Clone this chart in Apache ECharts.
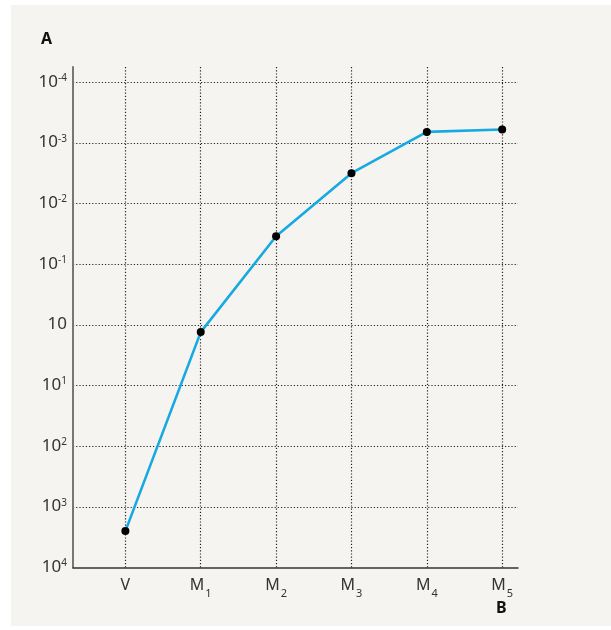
<!DOCTYPE html>
<html>
<head>
<meta charset="utf-8">
<title>A vs B</title>
<script src="https://cdn.jsdelivr.net/npm/echarts@6/dist/echarts.min.js"></script>
<style>
  html, body { margin: 0; padding: 0; background: #ffffff; }
  #chart { width: 611px; height: 630px; }
</style>
</head>
<body>
<div id="chart"></div>
<script>
// Stages along the horizontal axis (letter + index shown as subscript)
const categories = ['V', 'M1', 'M2', 'M3', 'M4', 'M5'];
// Exponent of ten for each stage (axis runs from 10^4 at the bottom to 10^-4 at the top)
const exponents = [3.40, 0.12, -1.46, -2.50, -3.18, -3.22];
// Vertical tick labels: base and superscript, from top (-4) to bottom (4)
const tickBase = '10';
const tickExponents = [-4, -3, -2, -1, 0, 1, 2, 3, 4];
const tickSups = ['-4', '-3', '-2', '-1', '', '1', '2', '3', '4'];
const axisNameY = 'A';
const axisNameX = 'B';

const FONT = '"Noto Sans", "Open Sans", sans-serif';
const TEXT = '#333333';

const chart = echarts.init(document.getElementById('chart'), null, { renderer: 'canvas' });

const seriesData = categories.map((c, i) => [i, exponents[i]]);

function isInt(v) { return Math.abs(v - Math.round(v)) < 1e-6; }

const option = {
  backgroundColor: 'transparent',
  animation: false,
  graphic: [
    {
      type: 'rect', z: -10, silent: true,
      shape: { x: 11, y: 5, width: 600, height: 621 },
      style: { fill: '#f5f4f0' }
    },
    {
      type: 'text', left: 41, top: 31,
      style: { text: axisNameY, font: 'bold 16px ' + FONT, fill: '#111' }
    },
    {
      type: 'text', left: 496, top: 600,
      style: { text: axisNameX, font: 'bold 16px ' + FONT, fill: '#111' }
    }
  ],
  grid: { left: 73, right: 93, top: 67, bottom: 62.5, containLabel: false },
  xAxis: {
    type: 'value',
    min: -0.695,
    max: 5.21,
    splitNumber: 6,
    axisLine: { show: true, onZero: false, lineStyle: { color: '#333', width: 1.5 } },
    axisTick: { show: false },
    axisLabel: {
      showMinLabel: false,
      showMaxLabel: false,
      margin: 10,
      color: TEXT,
      fontFamily: FONT,
      fontSize: 16,
      formatter: function (v) {
        if (!isInt(v) || v < 0 || v >= categories.length) return '';
        const name = categories[Math.round(v)];
        const letter = name.charAt(0);
        const sub = name.slice(1);
        return sub ? '{m|' + letter + '}{sub|' + sub + '}' : '{m|' + letter + '}';
      },
      rich: {
        m: { fontSize: 16, fontFamily: FONT, color: TEXT, lineHeight: 16, verticalAlign: 'top' },
        sub: { fontSize: 11, fontFamily: FONT, color: TEXT, lineHeight: 22, verticalAlign: 'bottom', padding: [0, 0, 0, 1] }
      }
    },
    splitLine: {
      show: true,
      showMinLine: false,
      showMaxLine: false,
      lineStyle: { color: '#222', width: 1.2, type: [1.2, 2] }
    }
  },
  yAxis: {
    type: 'value',
    inverse: true,
    min: -4.25,
    max: 4,
    splitNumber: 8,
    axisLine: { show: true, onZero: false, lineStyle: { color: '#777', width: 2 } },
    axisTick: { show: false },
    axisLabel: {
      showMinLabel: false,
      margin: 6,
      color: TEXT,
      fontFamily: FONT,
      fontSize: 17,
      formatter: function (v) {
        if (!isInt(v)) return '';
        const idx = tickExponents.indexOf(Math.round(v));
        if (idx < 0) return '';
        const s = tickSups[idx];
        return s ? '{b|' + tickBase + '}{sup|' + s + '}' : '{b|' + tickBase + '}';
      },
      rich: {
        b: { fontSize: 17, fontFamily: FONT, color: TEXT, lineHeight: 18, verticalAlign: 'top' },
        sup: { fontSize: 10, fontFamily: FONT, color: TEXT, lineHeight: 15, verticalAlign: 'top' }
      }
    },
    splitLine: {
      show: true,
      showMinLine: false,
      showMaxLine: false,
      lineStyle: { color: '#222', width: 1.2, type: [1.2, 2] }
    }
  },
  series: [
    {
      type: 'line',
      data: seriesData,
      smooth: false,
      symbol: 'circle',
      symbolSize: 8,
      showSymbol: true,
      itemStyle: { color: '#000000' },
      lineStyle: { color: '#17a9e1', width: 2.6 },
      z: 5
    }
  ]
};

chart.setOption(option);
</script>
</body>
</html>
